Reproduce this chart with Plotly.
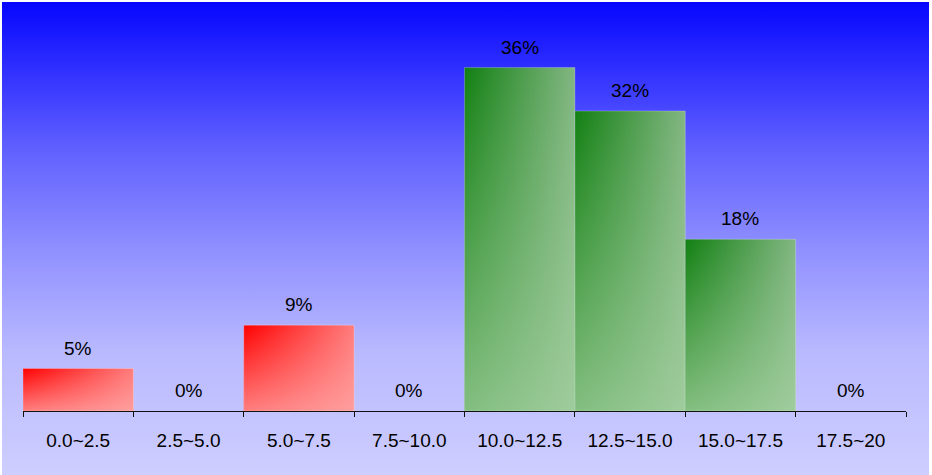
import plotly.graph_objects as go

# histogram buckets and share of items (percent) per bucket
buckets = ["0.0~2.5", "2.5~5.0", "5.0~7.5", "7.5~10.0",
           "10.0~12.5", "12.5~15.0", "15.0~17.5", "17.5~20"]
shares = [4.5, 0, 9.1, 0, 36.4, 31.8, 18.2, 0]
share_labels = ["5%", "0%", "9%", "0%", "36%", "32%", "18%", "0%"]
is_low = [True, True, True, True, False, False, False, False]

W, H = 932, 475
FONT = "Liberation Sans, Arial, sans-serif"

fig = go.Figure()

# background gradient (whole chart area) on its own axes
fig.add_trace(go.Scatter(
    x=[0, 1, 1, 0, 0], y=[0, 0, 1, 1, 0], xaxis="x", yaxis="y",
    mode="lines", line=dict(width=0), fill="toself",
    fillgradient=dict(type="vertical", colorscale=[
        [0.0, "rgb(206,206,255)"],
        [0.26, "rgb(185,185,255)"],
        [0.47, "rgb(145,145,255)"],
        [0.69, "rgb(96,96,255)"],
        [1.0, "rgb(6,6,255)"],
    ]),
    hoverinfo="skip", showlegend=False,
))

# bars: horizontal dark->mid fill, plus a light wash towards the bottom
# (gives roughly the top-left to bottom-right look of the original)
for i, (v, low) in enumerate(zip(shares, is_low)):
    if v <= 0:
        continue
    xs = [i, i + 1, i + 1, i, i]
    ys = [0, 0, v, v, 0]
    if low:
        cs = [[0, "rgb(255,0,0)"], [1, "rgb(255,124,124)"]]
        wash = "rgba(255,170,170,"
    else:
        cs = [[0, "rgb(18,128,18)"], [1, "rgb(130,182,130)"]]
        wash = "rgba(170,212,166,"
    fig.add_trace(go.Scatter(
        x=xs, y=ys, xaxis="x2", yaxis="y2", mode="lines",
        line=dict(width=0), fill="toself",
        fillgradient=dict(type="horizontal", colorscale=cs),
        hoverinfo="skip", showlegend=False,
    ))
    fig.add_trace(go.Scatter(
        x=xs, y=ys, xaxis="x2", yaxis="y2", mode="lines",
        line=dict(width=0.8, color="rgba(255,255,255,0.3)"), fill="toself",
        fillgradient=dict(type="vertical", colorscale=[
            [0, wash + "0.74)"], [1, wash + "0)"]]),
        hoverinfo="skip", showlegend=False,
    ))

for i, (v, lab) in enumerate(zip(shares, share_labels)):
    fig.add_annotation(
        x=i + 0.5, y=v, xref="x2", yref="y2", text=lab, showarrow=False,
        yanchor="bottom", yshift=8, font=dict(family=FONT, size=19, color="black"),
    )

fig.update_layout(
    width=W, height=H,
    margin=dict(l=0, r=0, t=0, b=0),
    paper_bgcolor="white", plot_bgcolor="rgba(0,0,0,0)",
    font=dict(family=FONT, size=19, color="black"),
    showlegend=False,
    xaxis=dict(domain=[2 / W, 929 / W], range=[0, 1], visible=False, fixedrange=True),
    yaxis=dict(domain=[0, 473 / H], range=[0, 1], visible=False, fixedrange=True),
    xaxis2=dict(
        domain=[23 / W, 906 / W], range=[0, 8], anchor="y2",
        tickmode="array", tickvals=[i + 0.5 for i in range(len(buckets))],
        ticktext=buckets, ticks="outside", ticklen=0, tickcolor="rgba(0,0,0,0)",
        ticklabelstandoff=12,
        minor=dict(tickmode="array", tickvals=list(range(len(buckets) + 1)),
                   ticks="outside", ticklen=5, tickcolor="#111", showgrid=False),
        showline=True, linecolor="#111", linewidth=1.2,
        showgrid=False, zeroline=False, fixedrange=True,
    ),
    yaxis2=dict(
        domain=[64 / H, 465 / H], range=[0, 42.5], anchor="x2",
        visible=False, showgrid=False, zeroline=False, fixedrange=True,
    ),
)

# page has a default 8px body margin; drop it so the chart sits at 0,0
fig.write_html("out.html", config={"displayModeBar": False},
               post_script="document.body.style.margin='0';"
                           "document.body.style.overflow='hidden';")
